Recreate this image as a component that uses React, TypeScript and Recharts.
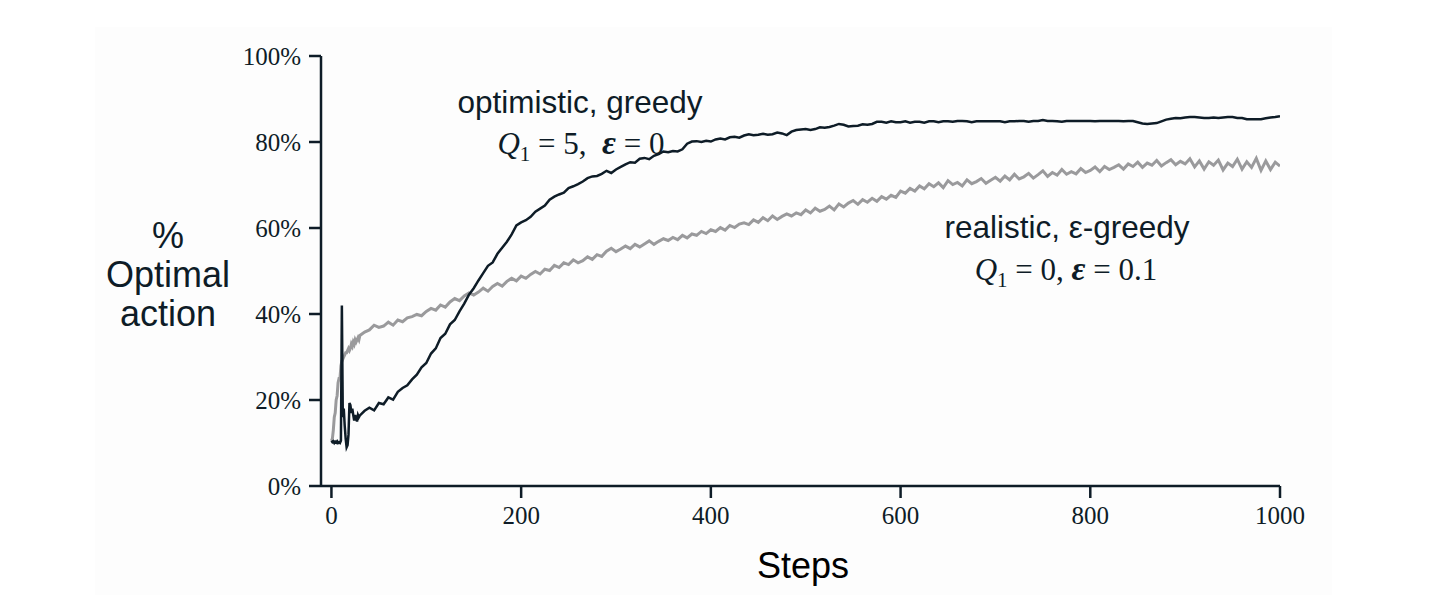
import React from "react";
import { LineChart, Line, XAxis, YAxis, Customized } from "recharts";

const steps = [
  0, 1, 2, 3, 4, 5, 6, 7, 8, 9, 10, 11, 12, 13, 14, 15, 16, 17, 18, 19, 20, 21, 22, 23, 24, 25, 26, 27, 28, 29, 30,
  35, 40, 45, 50, 55, 60, 65, 70, 75, 80,
  85, 90, 95, 100, 105, 110, 115, 120, 125, 130,
  135, 140, 145, 150, 155, 160, 165, 170, 175, 180,
  185, 190, 195, 200, 205, 210, 215, 220, 225, 230,
  235, 240, 245, 250, 255, 260, 265, 270, 275, 280,
  285, 290, 295, 300, 305, 310, 315, 320, 325, 330,
  335, 340, 345, 350, 355, 360, 365, 370, 375, 380,
  385, 390, 395, 400, 405, 410, 415, 420, 425, 430,
  435, 440, 445, 450, 455, 460, 465, 470, 475, 480,
  485, 490, 495, 500, 505, 510, 515, 520, 525, 530,
  535, 540, 545, 550, 555, 560, 565, 570, 575, 580,
  585, 590, 595, 600, 605, 610, 615, 620, 625, 630,
  635, 640, 645, 650, 655, 660, 665, 670, 675, 680,
  685, 690, 695, 700, 705, 710, 715, 720, 725, 730,
  735, 740, 745, 750, 755, 760, 765, 770, 775, 780,
  785, 790, 795, 800, 805, 810, 815, 820, 825, 830,
  835, 840, 845, 850, 855, 860, 865, 870, 875, 880,
  885, 890, 895, 900, 905, 910, 915, 920, 925, 930,
  935, 940, 945, 950, 955, 960, 965, 970, 975, 980,
  985, 990, 995, 1000,
];

// optimistic, greedy (Q1 = 5, eps = 0)
const optimistic = [
  10.5, 10.2, 10.4, 10, 10.3, 10.1, 10.4, 10, 10.2, 10, 10.5, 42, 16, 18, 14, 11, 9, 9.5, 12, 19.3, 18.8, 17, 18, 16.5, 15.2, 16.5, 15.8, 15, 16.5, 16, 16.4,
  17.5, 18.2, 17.6, 19.3, 19, 20.6, 20.1, 21.9, 22.8, 23.4,
  24.8, 25.9, 27.6, 28.6, 30.8, 32, 34.4, 35.4, 37.6, 38.6,
  40.6, 42.4, 44.5, 46, 47.8, 49.5, 51.2, 52, 54, 55.4,
  56.8, 58.5, 60.6, 61.3, 61.8, 62.6, 63.8, 64.5, 65.2, 66.6,
  67.3, 67.8, 68.2, 69.3, 69.7, 70.2, 70.8, 71.6, 72, 72.1,
  72.6, 73.3, 72.8, 73.6, 74.2, 74.8, 75.3, 75.2, 76.1, 76.3,
  76, 76.8, 77.2, 77.8, 77.6, 77.9, 77.8, 78.3, 79.6, 80.1,
  80.2, 80, 80.3, 80.1, 80.6, 80.8, 80.6, 81.1, 81.2, 81,
  81.5, 81.8, 81.6, 81.7, 81.9, 81.7, 81.8, 82.2, 82, 81.6,
  82.4, 82.8, 82.9, 83, 82.8, 83, 83.4, 83.3, 83.5, 83.8,
  84.2, 84, 83.6, 83.7, 83.8, 84.1, 84, 84.2, 84.7, 84.7,
  84.5, 84.8, 84.6, 84.6, 84.8, 84.5, 84.7, 84.7, 84.5, 84.8,
  84.8, 84.6, 84.8, 84.8, 84.7, 84.9, 84.9, 84.8, 84.6, 84.8,
  84.8, 84.8, 84.8, 84.8, 84.8, 84.6, 84.8, 84.8, 84.9, 84.9,
  84.7, 84.9, 84.9, 85.1, 84.9, 84.9, 84.8, 84.7, 84.9, 84.9,
  84.9, 84.9, 84.9, 84.9, 84.8, 84.9, 84.9, 84.9, 84.9, 84.9,
  84.8, 84.9, 84.9, 84.6, 84.3, 84.2, 84.3, 84.4, 84.8, 85.2,
  85.4, 85.6, 85.5, 85.7, 85.8, 85.8, 85.7, 85.6, 85.6, 85.7,
  85.6, 85.7, 85.8, 85.8, 85.6, 85.6, 85.3, 85.3, 85.3, 85.3,
  85.5, 85.7, 85.8, 86,
];

// realistic, epsilon-greedy (Q1 = 0, eps = 0.1)
const realistic = [
  10.5, 11, 13, 16, 17, 20, 21, 24, 25, 25, 28, 29, 29.5, 30, 30.5, 31, 31, 31.5, 32, 31.5, 32, 33, 32.5, 33.5, 33, 34, 33.5, 34, 34.5, 34, 35,
  35.8, 36.3, 37.4, 36.9, 37.2, 38.1, 37.4, 38.6, 38.2, 39.1,
  39.4, 39.9, 39.6, 40.6, 41.3, 40.9, 42.1, 41.6, 42.8, 43.6,
  43.1, 44.2, 44.9, 44.4, 45.1, 46, 45.3, 46.4, 47.1, 46.5,
  47.6, 48.3, 47.7, 48.8, 48.3, 49.2, 49.9, 49.3, 50.4, 50.1,
  51.3, 50.8, 51.9, 51.5, 52.6, 51.9, 52.4, 53.3, 52.7, 53.8,
  53.4, 54.6, 55.3, 54.5, 55.1, 55.8, 55.2, 56.2, 55.6, 56.3,
  57, 56.2, 56.9, 57.5, 57.1, 57.8, 57.3, 58.3, 57.7, 58.6,
  58.3, 59.2, 58.7, 59.6, 59.2, 60.1, 59.5, 60.6, 60.1, 60.9,
  61.2, 60.8, 61.9, 61.3, 62.4, 61.7, 62.8, 62, 62.7, 63.3,
  62.8, 63.5, 63.1, 64.2, 63.5, 64.6, 63.9, 64.3, 65.1, 64.2,
  65.6, 64.9, 65.8, 66.4, 65.5, 66.6, 66, 66.9, 66.2, 67.3,
  66.7, 67.6, 67.1, 68.6, 68.1, 69.2, 68.6, 69.8, 69.1, 70.3,
  69.6, 70.5, 69.4, 71, 70.1, 70.6, 69.8, 71.2, 70.3, 70.8,
  71.5, 70.4, 71.1, 71.8, 70.9, 72.1, 71.2, 72.5, 71.4, 71.9,
  72.7, 71.6, 72.4, 73.3, 72, 72.9, 72.3, 73.6, 72.5, 73.1,
  72.6, 73.8, 72.9, 73.4, 74.2, 73.1, 74.3, 73.6, 74.1, 74.7,
  73.7, 74.9, 74.3, 75.3, 74.1, 75.1, 74.6, 75.7, 74.4, 75.2,
  75.9, 74.7, 75.5, 74.9, 76.1, 74.2, 75.6, 73.7, 75.4, 74.6,
  75.8, 73.5, 75.1, 74.3, 76, 73.7, 75.4, 74.1, 76.2, 73.4,
  75.6, 73.6, 75.3, 74.4,
];

const xTicks = [0, 200, 400, 600, 800, 1000];
const yTicks = [0, 20, 40, 60, 80, 100];
const yLabelLines = ["%", "Optimal", "action"];

const data = steps.map((s, i) => ({ step: s, optimistic: optimistic[i], realistic: realistic[i] }));

const INK = "#0e1c27";
const GRAY = "#9a9a9c";
const SANS = "'Liberation Sans', Arial, Helvetica, sans-serif";
const SERIF = "'Liberation Serif', 'Times New Roman', serif";

function Annotations() {
  return (
    <g>
      <text x={160} y={227} textAnchor="middle" dominantBaseline="central" fontFamily={SANS} fontSize={36} fill={INK}>
        {yLabelLines[0]}
      </text>
      <text x={160} y={266} textAnchor="middle" dominantBaseline="central" fontFamily={SANS} fontSize={36} fill={INK}>
        {yLabelLines[1]}
      </text>
      <text x={160} y={305} textAnchor="middle" dominantBaseline="central" fontFamily={SANS} fontSize={36} fill={INK}>
        {yLabelLines[2]}
      </text>
      <text x={795} y={557} textAnchor="middle" dominantBaseline="central" fontFamily={SANS} fontSize={36} fill="#000">
        Steps
      </text>

      <text x={572} y={105} textAnchor="middle" fontFamily={SANS} fontSize={31.5} fill={INK}>
        optimistic, greedy
      </text>
      <text
        x={573}
        y={146}
        textAnchor="middle"
        fontFamily={SERIF}
        fontSize={31}
        fill={INK}
        xmlSpace="preserve"
        style={{ whiteSpace: "pre" }}
      >
        <tspan fontStyle="italic">Q</tspan>
        <tspan fontSize={21} dy={7}>1</tspan>
        <tspan dy={-7}>{" = 5,  "}</tspan>
        <tspan fontStyle="italic" fontWeight="bold" fontSize={34}>ε</tspan>
        <tspan>{" = 0"}</tspan>
      </text>

      <text x={1059} y={230} textAnchor="middle" fontFamily={SANS} fontSize={31.5} fill={INK}>
        realistic, ε-greedy
      </text>
      <text
        x={1058}
        y={272}
        textAnchor="middle"
        fontFamily={SERIF}
        fontSize={31}
        fill={INK}
        xmlSpace="preserve"
        style={{ whiteSpace: "pre" }}
      >
        <tspan fontStyle="italic">Q</tspan>
        <tspan fontSize={21} dy={7}>1</tspan>
        <tspan dy={-7}>{" = 0, "}</tspan>
        <tspan fontStyle="italic" fontWeight="bold" fontSize={34}>ε</tspan>
        <tspan>{" = 0.1"}</tspan>
      </text>
    </g>
  );
}

export default function App() {
  return (
    <div style={{ position: "relative", width: 1422, height: 596 }}>
      <div
        style={{ position: "absolute", left: 87, top: 19, width: 1237, height: 568, background: "#fdfdfd" }}
      />
      <div style={{ position: "absolute", left: 0, top: 0 }}>
        <LineChart width={1422} height={596} data={data} margin={{ top: 48, right: 150, bottom: 78, left: 233 }}>
          <XAxis
            dataKey="step"
            type="number"
            domain={[-11, 1000]}
            ticks={xTicks}
            allowDataOverflow
            height={40}
            tickSize={12}
            tickMargin={8}
            axisLine={{ stroke: INK, strokeWidth: 2.5 }}
            tickLine={{ stroke: INK, strokeWidth: 2.5 }}
            tick={{ fontFamily: SERIF, fontSize: 25, fill: INK }}
          />
          <YAxis
            type="number"
            domain={[0, 100]}
            ticks={yTicks}
            width={80}
            tickSize={12}
            tickMargin={8}
            tickFormatter={(v: number) => `${v}%`}
            axisLine={{ stroke: INK, strokeWidth: 2.5 }}
            tickLine={{ stroke: INK, strokeWidth: 2.5 }}
            tick={{ fontFamily: SERIF, fontSize: 25, fill: INK }}
          />
          <Line type="linear" dataKey="realistic" stroke={GRAY} strokeWidth={3} dot={false} isAnimationActive={false} />
          <Line type="linear" dataKey="optimistic" stroke={INK} strokeWidth={2.5} dot={false} isAnimationActive={false} />
          <Customized component={Annotations} />
        </LineChart>
      </div>
    </div>
  );
}
